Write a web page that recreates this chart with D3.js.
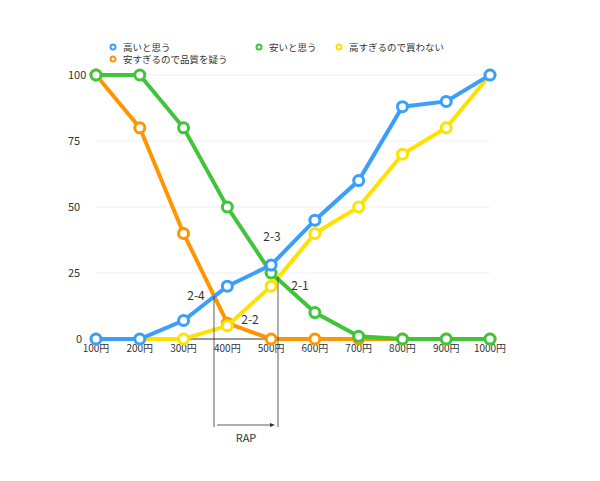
<!DOCTYPE html><html><head><meta charset="utf-8"><script src="https://cdn.jsdelivr.net/npm/d3@7"></script>
<style>body{margin:0;background:#fff}text{font-family:"Noto Sans CJK JP",sans-serif;fill:#333}</style></head><body><svg id="c" width="600" height="481"></svg><script>
const categories=["100円","200円","300円","400円","500円","600円","700円","800円","900円","1000円"];
const takai=[0,0,7,20,28,45,60,88,90,100];
const yasusugi=[100,80,40,6,0,0,0,0,0,0];
const yasui=[100,100,80,50,25,10,1,0,0,0];
const takasugi=[0,0,0,5,20,40,50,70,80,100];
const yTicks=[0,25,50,75,100];
const series=[
 {name:"安すぎるので品質を疑う",v:yasusugi,c:"#ff9500",lx:113,ly:59},
 {name:"高すぎるので買わない",v:takasugi,c:"#ffe100",lx:339,ly:47},
 {name:"安いと思う",v:yasui,c:"#3fc43a",lx:259,ly:47},
 {name:"高いと思う",v:takai,c:"#3a9efd",lx:113,ly:47}];
const svg=d3.select("#c");
const x=d3.scalePoint().domain(categories).range([96,490]);
const y=d3.scaleLinear().domain([0,100]).range([339,75]);
svg.selectAll("line.g").data(yTicks.slice(1)).join("line").attr("x1",96).attr("x2",490).attr("y1",d=>y(d)).attr("y2",d=>y(d)).attr("stroke","#eee");
svg.selectAll("text.yt").data(yTicks).join("text").attr("x",d=>d==0?76:68).attr("y",d=>y(d)+4).attr("font-size",11).text(d=>d);
svg.selectAll("text.xt").data(categories).join("text").attr("x",d=>x(d)).attr("y",352).attr("text-anchor","middle").attr("font-size",10).text(d=>d);
svg.append("line").attr("x1",x("300円")).attr("x2",278).attr("y1",339).attr("y2",339).attr("stroke","#333");
const ln=d3.line().x((d,i)=>x(categories[i])).y(d=>y(d));
series.forEach(s=>{
 svg.append("path").attr("d",ln(s.v)).attr("fill","none").attr("stroke",s.c).attr("stroke-width",4);
 svg.selectAll(null).data(s.v).join("circle").attr("cx",(d,i)=>x(categories[i])).attr("cy",d=>y(d)).attr("r",5).attr("fill","#fff").attr("stroke",s.c).attr("stroke-width",3);
 svg.append("circle").attr("cx",s.lx).attr("cy",s.ly).attr("r",2.5).attr("fill","#fff").attr("stroke",s.c).attr("stroke-width",2);
 svg.append("text").attr("x",s.lx+10).attr("y",s.ly+3.5).attr("font-size",9.5).text(s.name);
});
[[214,296],[278,277]].forEach(([lx,t])=>svg.append("line").attr("x1",lx).attr("x2",lx).attr("y1",t).attr("y2",427).attr("stroke","#333").attr("stroke-width",0.8));
svg.append("line").attr("x1",217).attr("x2",272).attr("y1",425).attr("y2",425).attr("stroke","#333").attr("stroke-width",0.8);
svg.append("path").attr("d","M275,425 L270,423 L270,427Z").attr("fill","#333");
svg.append("text").attr("x",246).attr("y",442).attr("text-anchor","middle").attr("font-size",11).text("RAP");
[["2-3",272,241],["2-4",196,300],["2-1",300,290],["2-2",250,324]].forEach(([t,a,b])=>svg.append("text").attr("x",a).attr("y",b).attr("text-anchor","middle").attr("font-size",12).text(t));
</script></body></html>
